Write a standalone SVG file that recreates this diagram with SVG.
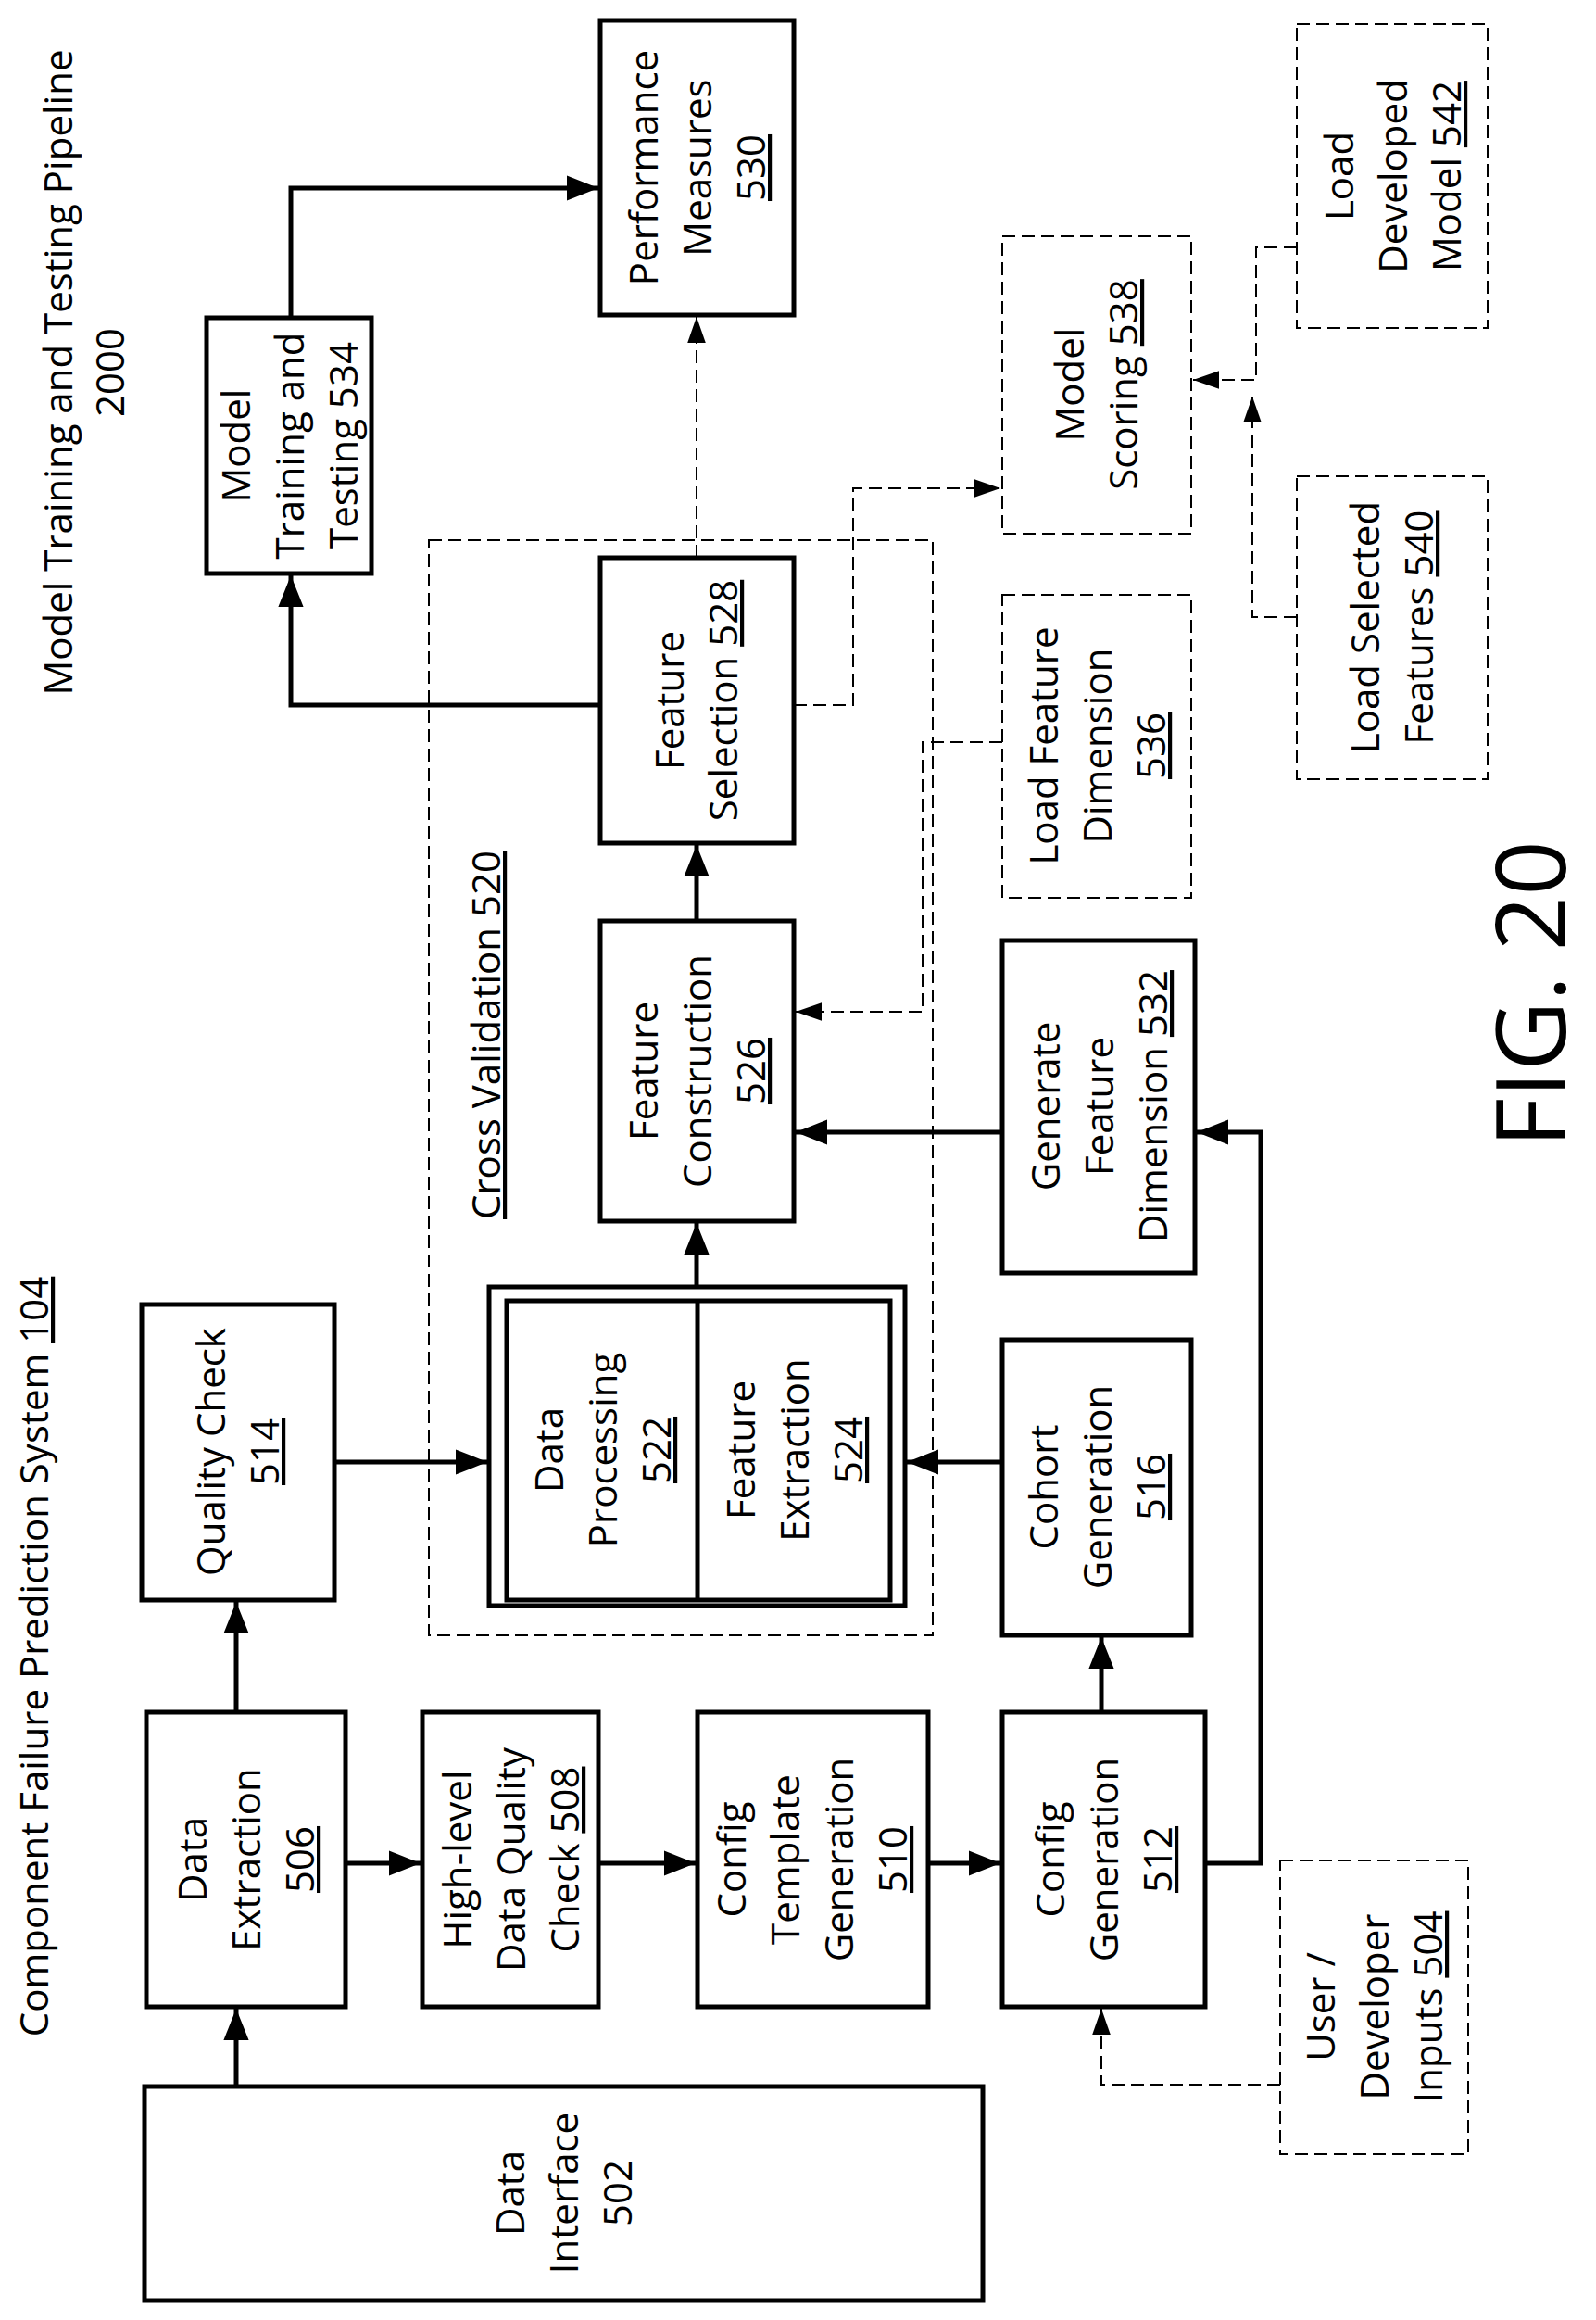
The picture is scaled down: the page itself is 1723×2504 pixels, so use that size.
<svg xmlns="http://www.w3.org/2000/svg" width="1723" height="2504" viewBox="0 0 1723 2504">
<style>
.b{fill:#fff;stroke:#000;stroke-width:5}
.d{fill:#fff;stroke:#000;stroke-width:2;stroke-dasharray:14 7}
.l{fill:none;stroke:#000;stroke-width:5}
.dl{fill:none;stroke:#000;stroke-width:2;stroke-dasharray:14 7}
text{font-family:"Open Sans","Liberation Sans",sans-serif;font-size:42px;text-anchor:middle;fill:#000}
.u{text-decoration:underline}
</style>
<defs>
<marker id="s" viewBox="0 0 10 10" refX="10" refY="5" markerWidth="34" markerHeight="34" orient="auto" markerUnits="userSpaceOnUse"><path d="M0,1L10,5L0,9z"/></marker>
<marker id="t" viewBox="0 0 10 10" refX="10" refY="5" markerWidth="28" markerHeight="28" orient="auto" markerUnits="userSpaceOnUse"><path d="M0,1.5L10,5L0,8.5z"/></marker>
</defs>
<g id="titles">
<text transform="translate(52,1788) rotate(-90)">Component Failure Prediction System <tspan class="u">104</tspan></text>
<text transform="translate(78,402) rotate(-90)">Model Training and Testing  Pipeline</text>
<text transform="translate(134,402) rotate(-90)">2000</text>
<text transform="translate(1690,1073) rotate(-90)" style="font-size:104px">FIG. 20</text>
</g>
<g id="cv520"><rect class="d" x="463" y="583" width="544" height="1182"/>
<text transform="translate(540,1117) rotate(-90)" class="u">Cross Validation 520</text></g>
<g id="n502"><rect class="b" x="156" y="2252" width="905" height="231"/>
<text transform="translate(608,2367) rotate(-90)"><tspan x="0" y="-42">Data</tspan><tspan x="0" y="16">Interface</tspan><tspan x="0" y="74">502</tspan></text></g>
<g id="n506"><rect class="b" x="158" y="1848" width="215" height="318"/>
<text transform="translate(265,2007) rotate(-90)"><tspan x="0" y="-42">Data</tspan><tspan x="0" y="16">Extraction</tspan><tspan x="0" y="74" class="u">506</tspan></text></g>
<g id="n508"><rect class="b" x="456" y="1848" width="190" height="318"/>
<text transform="translate(551,2007) rotate(-90)"><tspan x="0" y="-42">High-level</tspan><tspan x="0" y="16">Data Quality</tspan><tspan x="0" y="74">Check <tspan class="u">508</tspan></tspan></text></g>
<g id="n510"><rect class="b" x="753" y="1848" width="249" height="318"/>
<text transform="translate(877,2007) rotate(-90)"><tspan x="0" y="-72">Config</tspan><tspan x="0" y="-14">Template</tspan><tspan x="0" y="44">Generation</tspan><tspan x="0" y="102" class="u">510</tspan></text></g>
<g id="n512"><rect class="b" x="1082" y="1848" width="219" height="318"/>
<text transform="translate(1191,2007) rotate(-90)"><tspan x="0" y="-42">Config</tspan><tspan x="0" y="16">Generation</tspan><tspan x="0" y="74" class="u">512</tspan></text></g>
<g id="n504"><rect class="d" x="1382" y="2008" width="203" height="317"/>
<text transform="translate(1483,2166) rotate(-90)"><tspan x="0" y="-42">User /</tspan><tspan x="0" y="16">Developer</tspan><tspan x="0" y="74">Inputs <tspan class="u">504</tspan></tspan></text></g>
<g id="n514"><rect class="b" x="153" y="1408" width="208" height="319"/>
<text transform="translate(257,1567) rotate(-90)"><tspan x="0" y="-14">Quality Check</tspan><tspan x="0" y="44" class="u">514</tspan></text></g>
<g id="n516"><rect class="b" x="1082" y="1446" width="204" height="319"/>
<text transform="translate(1184,1605) rotate(-90)"><tspan x="0" y="-42">Cohort</tspan><tspan x="0" y="16">Generation</tspan><tspan x="0" y="74" class="u">516</tspan></text></g>
<g id="n522_524"><rect class="b" x="528" y="1389" width="449" height="344"/>
<rect class="b" x="547" y="1404" width="414" height="323"/>
<line class="l" x1="753" y1="1404" x2="753" y2="1727"/>
<text transform="translate(650,1565) rotate(-90)"><tspan x="0" y="-42">Data</tspan><tspan x="0" y="16">Processing</tspan><tspan x="0" y="74" class="u">522</tspan></text>
<text transform="translate(857,1565) rotate(-90)"><tspan x="0" y="-42">Feature</tspan><tspan x="0" y="16">Extraction</tspan><tspan x="0" y="74" class="u">524</tspan></text></g>
<g id="n526"><rect class="b" x="648" y="994" width="209" height="324"/>
<text transform="translate(752,1156) rotate(-90)"><tspan x="0" y="-42">Feature</tspan><tspan x="0" y="16">Construction</tspan><tspan x="0" y="74" class="u">526</tspan></text></g>
<g id="n532"><rect class="b" x="1082" y="1015" width="208" height="359"/>
<text transform="translate(1186,1194) rotate(-90)"><tspan x="0" y="-42">Generate</tspan><tspan x="0" y="16">Feature</tspan><tspan x="0" y="74">Dimension <tspan class="u">532</tspan></tspan></text></g>
<g id="n528"><rect class="b" x="648" y="602" width="209" height="308"/>
<text transform="translate(752,756) rotate(-90)"><tspan x="0" y="-14">Feature</tspan><tspan x="0" y="44">Selection <tspan class="u">528</tspan></tspan></text></g>
<g id="n536"><rect class="d" x="1082" y="642" width="204" height="327"/>
<text transform="translate(1184,805) rotate(-90)"><tspan x="0" y="-42">Load Feature</tspan><tspan x="0" y="16">Dimension</tspan><tspan x="0" y="74" class="u">536</tspan></text></g>
<g id="n534"><rect class="b" x="223" y="343" width="178" height="276"/>
<text transform="translate(312,481) rotate(-90)"><tspan x="0" y="-42">Model</tspan><tspan x="0" y="16">Training and</tspan><tspan x="0" y="74">Testing 534</tspan></text></g>
<g id="n530"><rect class="b" x="648" y="22" width="209" height="318"/>
<text transform="translate(752,181) rotate(-90)"><tspan x="0" y="-42">Performance</tspan><tspan x="0" y="16">Measures</tspan><tspan x="0" y="74" class="u">530</tspan></text></g>
<g id="n538"><rect class="d" x="1082" y="255" width="204" height="321"/>
<text transform="translate(1184,415) rotate(-90)"><tspan x="0" y="-14">Model</tspan><tspan x="0" y="44">Scoring <tspan class="u">538</tspan></tspan></text></g>
<g id="n540"><rect class="d" x="1400" y="514" width="206" height="327"/>
<text transform="translate(1503,677) rotate(-90)"><tspan x="0" y="-14">Load Selected</tspan><tspan x="0" y="44">Features <tspan class="u">540</tspan></tspan></text></g>
<g id="n542"><rect class="d" x="1400" y="26" width="206" height="328"/>
<text transform="translate(1503,190) rotate(-90)"><tspan x="0" y="-42">Load</tspan><tspan x="0" y="16">Developed</tspan><tspan x="0" y="74">Model <tspan class="u">542</tspan></tspan></text></g>
<g id="connectors">
<path class="l" d="M255,2252V2168" marker-end="url(#s)"/>
<path class="l" d="M373,2011H454" marker-end="url(#s)"/>
<path class="l" d="M646,2011H751" marker-end="url(#s)"/>
<path class="l" d="M1002,2011H1080" marker-end="url(#s)"/>
<path class="l" d="M255,1848V1729" marker-end="url(#s)"/>
<path class="l" d="M361,1578H526" marker-end="url(#s)"/>
<path class="l" d="M1189,1848V1767" marker-end="url(#s)"/>
<path class="l" d="M1082,1578H979" marker-end="url(#s)"/>
<path class="l" d="M1301,2011H1361V1222H1292" marker-end="url(#s)"/>
<path class="l" d="M1082,1222H859" marker-end="url(#s)"/>
<path class="l" d="M752,1389V1320" marker-end="url(#s)"/>
<path class="l" d="M752,994V912" marker-end="url(#s)"/>
<path class="l" d="M648,761H314V621" marker-end="url(#s)"/>
<path class="l" d="M314,343V203H646" marker-end="url(#s)"/>
<path class="dl" d="M752,602V342" marker-end="url(#t)"/>
<path class="dl" d="M857,761H921V527H1080" marker-end="url(#t)"/>
<path class="dl" d="M1082,801H996V1092H859" marker-end="url(#t)"/>
<path class="dl" d="M1382,2250H1189V2168" marker-end="url(#t)"/>
<path class="dl" d="M1400,666H1352V428" marker-end="url(#t)"/>
<path class="dl" d="M1400,267H1356V410H1288" marker-end="url(#t)"/>
</g>
</svg>
